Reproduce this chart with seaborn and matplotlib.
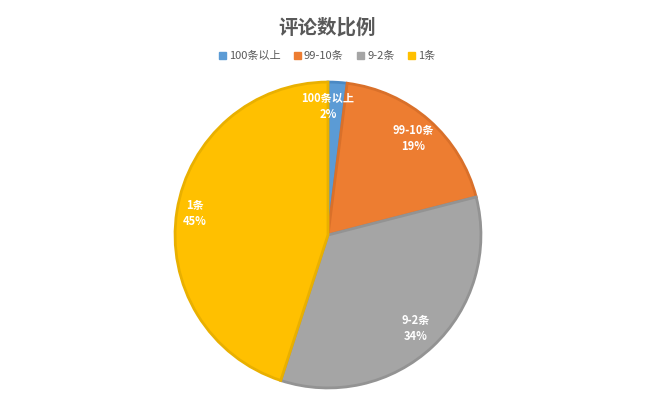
import matplotlib
matplotlib.use("Agg")
import matplotlib.pyplot as plt
import seaborn as sns
import numpy as np
from matplotlib.patches import Patch

sns.set_theme(style="white")
plt.rcParams['font.family'] = ['Noto Sans CJK SC', 'DejaVu Sans']

title = "评论数比例"
categories = ["100条以上", "99-10条", "9-2条", "1条"]
values = [2, 19, 34, 45]
colors = ["#5B9BD5", "#ED7D31", "#A5A5A5", "#FFC000"]
edge_colors = ["#4A89C4", "#D9702A", "#939393", "#E9B000"]

fig = plt.figure(figsize=(6.54, 4.11), dpi=100)
fig.patch.set_facecolor("white")
W, H = 654, 411
cx, cy, r = 328, 235, 156
ax = fig.add_axes([(cx - r) / W, (H - cy - r) / H, 2 * r / W, 2 * r / H])

wedges, _ = ax.pie(values, colors=colors, startangle=90, counterclock=False,
                   radius=1.0, wedgeprops=dict(linewidth=2))
for w, ec in zip(wedges, edge_colors):
    w.set_edgecolor(ec)

total = sum(values)
for w, cat, v in zip(wedges, categories, values):
    ang = np.deg2rad((w.theta1 + w.theta2) / 2)
    d = 0.84
    x, y = d * np.cos(ang), d * np.sin(ang)
    if cat == categories[0]:
        x = 0.0
    if cat == categories[-1]:
        d = 0.88
        x, y = d * np.cos(ang), d * np.sin(ang)
    ax.text(x, y, f"{cat}\n{round(v / total * 100)}%", ha="center", va="center",
            color="white", fontsize=8, linespacing=1.3, fontweight="bold")

ax.set_xlim(-1.02, 1.02)
ax.set_ylim(-1.02, 1.02)
ax.set_aspect("equal")
ax.axis("off")

fig.text(0.5, 1 - 28 / H, title, ha="center", va="center", fontsize=14,
         color="#595959", fontweight="bold")

handles = [Patch(facecolor=c, edgecolor=c) for c in colors]
fig.legend(handles, categories, loc="center", bbox_to_anchor=(0.5, 1 - 56 / H),
           ncol=4, frameon=False, fontsize=8, handlelength=0.6, handleheight=0.6,
           handletextpad=0.3, columnspacing=1.2, labelcolor="#595959")

fig.savefig("out.png", dpi=100, facecolor="white")
